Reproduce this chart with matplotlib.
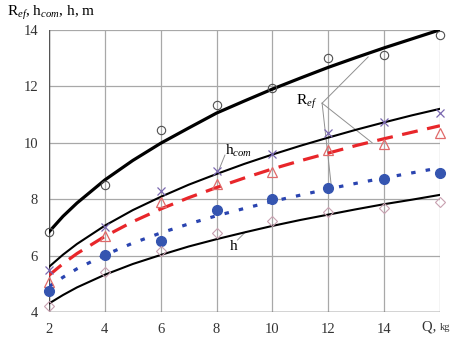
import matplotlib
matplotlib.use("Agg")
import matplotlib.pyplot as plt
import numpy as np

plt.rcParams['font.family'] = ['Liberation Serif', 'DejaVu Serif']
plt.rcParams['mathtext.fontset'] = 'custom'
plt.rcParams['mathtext.rm'] = 'Liberation Serif'
plt.rcParams['mathtext.it'] = 'Liberation Serif:italic'

# measured points
Q = [2, 4, 6, 8, 10, 12, 14, 16]
r_circ = [6.84, 8.5, 10.45, 11.35, 11.95, 13.0, 13.1, 13.8]
r_cross = [5.5, 7.0, 8.3, 9.0, 9.6, 10.35, 10.75, 11.05]
r_tri = [5.07, 6.7, 7.9, 8.54, 8.96, 9.74, 9.96, 10.35]
r_dot = [4.74, 6.02, 6.5, 7.62, 8.0, 8.4, 8.72, 8.93]
h_diam = [4.2, 5.42, 6.15, 6.8, 7.22, 7.55, 7.7, 7.9]

# trend curves, read every 1 kg (plus 2.5 where they bend most)
Qc = [2, 2.5, 3, 4, 5, 6, 7, 8, 9, 10, 11, 12, 13, 14, 15, 16]
c_top = [6.84, 7.39, 7.86, 8.68, 9.37, 9.98, 10.52, 11.05, 11.48, 11.9, 12.29, 12.67, 13.02, 13.36, 13.68, 14.0]
c_hcom = [5.6, 6.03, 6.41, 7.06, 7.61, 8.08, 8.51, 8.89, 9.25, 9.58, 9.89, 10.18, 10.46, 10.72, 10.97, 11.2]
c_red = [5.3, 5.71, 6.07, 6.68, 7.2, 7.65, 8.05, 8.41, 8.75, 9.07, 9.36, 9.63, 9.9, 10.14, 10.37, 10.6]
c_blue = [4.9, 5.23, 5.53, 6.02, 6.44, 6.8, 7.12, 7.41, 7.67, 7.92, 8.14, 8.36, 8.56, 8.75, 8.93, 9.11]
c_h = [4.3, 4.6, 4.87, 5.32, 5.7, 6.02, 6.32, 6.58, 6.82, 7.05, 7.26, 7.45, 7.64, 7.82, 7.98, 8.15]

fig = plt.figure(figsize=(4.54, 3.47), dpi=100)
ax = fig.add_axes([0.108, 0.101, 0.861, 0.813])

ax.plot(Qc, c_top, color='black', lw=2.3, zorder=3)
ax.plot(Qc, c_hcom, color='black', lw=1.5, zorder=3)
ax.plot(Qc, c_red, color='#e8262a', lw=2.3, dashes=(5, 3), zorder=3)
ax.plot(Qc, c_blue, color='#2a44b0', lw=2.3, dashes=(1.4, 3.2), zorder=3)
ax.plot(Qc, c_h, color='black', lw=1.5, zorder=3)

mk = dict(clip_on=False, zorder=4, ls='none')
ax.plot(Q, r_circ, 'o', ms=6, mfc='none', mec='#505050', mew=0.8, **mk)
ax.plot(Q, r_cross, 'x', ms=6, color='#7a68b0', mew=0.9, **mk)
ax.plot(Q, r_tri, '^', ms=7, mfc='none', mec='#e06a6a', mew=0.9, **mk)
ax.plot(Q, r_dot, 'o', ms=7, color='#3555b0', **mk)
ax.plot(Q, h_diam, 'D', ms=5, mfc='none', mec='#c8a0b0', mew=0.8, **mk)

# leader lines and labels
lc = '#909090'
ax.plot([11.78, 13.43], [11.4, 13.04], color=lc, lw=0.7)
ax.plot([11.78, 13.57], [11.4, 10.0], color=lc, lw=0.7)
ax.plot([11.78, 12.1], [11.4, 8.55], color=lc, lw=0.7)
ax.text(11.6, 11.45, r'R$_{ef}$', fontsize=11, ha='right', va='center')
ax.plot([8.3, 8.05], [9.56, 8.95], color=lc, lw=0.7)
ax.text(8.3, 9.7, r'h$_{com}$', fontsize=11, ha='left', va='center')
ax.plot([8.75, 9.05], [6.55, 6.85], color=lc, lw=0.7)
ax.text(8.6, 6.33, 'h', fontsize=11, ha='center', va='center')

ax.set_xlim(2, 16)
ax.set_ylim(4, 14)
ax.set_xticks([2, 4, 6, 8, 10, 12, 14, 16])
ax.set_xticklabels(['2', '4', '6', '8', '10', '12', '14', ''])
ax.set_yticks([4, 6, 8, 10, 12, 14])
ax.grid(True, color='#a8a8a8', lw=0.9)
ax.tick_params(length=0, labelsize=10.5, colors='#333333', pad=8)
for s in ax.spines.values():
    s.set_visible(False)
ax.axvline(2, color='#555555', lw=1.0)
ax.axhline(4, color='#555555', lw=1.0)

ax.text(16, 3.45, 'Q, ', fontsize=10.5, ha='right', va='center', color='#333333')
ax.text(16.0, 3.45, 'kg', fontsize=7.5, ha='left', va='center', color='#333333')
fig.text(0.015, 0.963, r'R$_{ef}$, h$_{com}$, h, m', fontsize=11, ha='left', va='center')

fig.savefig('out.png', dpi=100)
